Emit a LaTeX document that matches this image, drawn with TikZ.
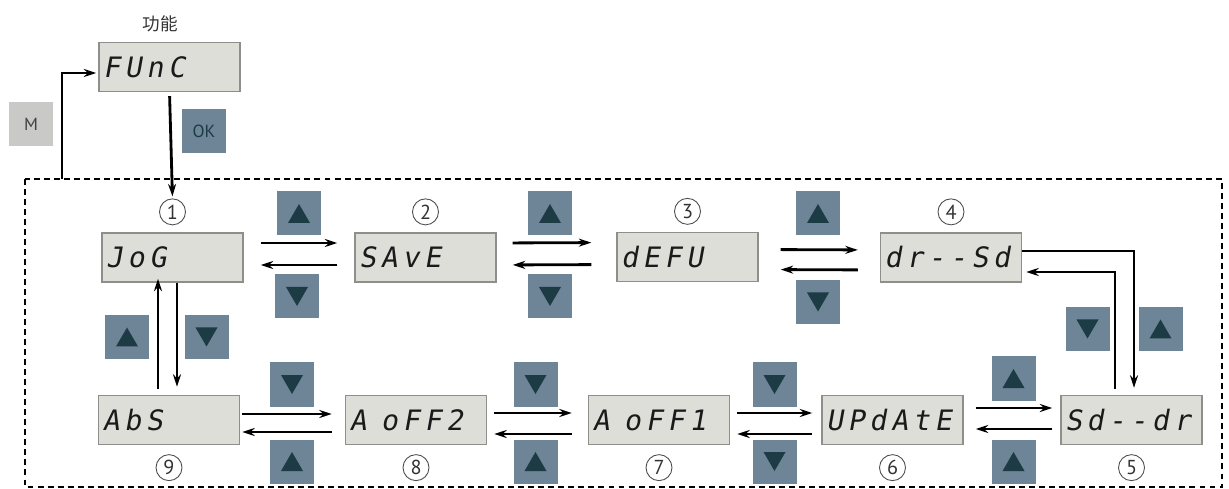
\documentclass[tikz,border=0pt]{standalone}
\usepackage{fontspec}
\usepackage{xcolor}
\usepackage{tikz}
\usetikzlibrary{positioning,arrows.meta,calc}
\newfontfamily\lcdfont[FakeSlant=0.18,LetterSpace=17,Ligatures=TeXOff]{DejaVu Sans Mono}
\newfontfamily\keyfont{PT Sans}
\newfontfamily\cjk{Noto Sans CJK SC}
\definecolor{lcdbg}{HTML}{DEDED9}
\definecolor{lcdedge}{HTML}{8E8E8A}
\definecolor{lcdink}{HTML}{1A1A1A}
\definecolor{keyblue}{HTML}{6D8597}
\definecolor{keydark}{HTML}{1D3B45}
\definecolor{keygray}{HTML}{C9C9C7}
\newcommand{\cellgap}{\hspace{2.9pt}~}

\begin{document}
\begin{tikzpicture}[
  x=0.2mm,y=-0.2mm,
  lcd/.style={draw=lcdedge,line width=0.8pt,fill=lcdbg,
              minimum width=2.82cm,minimum height=0.98cm,text width=2.66cm,
              inner xsep=0.08cm,align=left,text=lcdink,
              font=\lcdfont\fontsize{16}{16}\selectfont},
  key/.style={fill=keyblue,minimum size=0.88cm,inner sep=0pt},
  upkey/.style={key,path picture={
      \fill[keydark] ($(path picture bounding box.center)+(0,-9.5)$)
        -- ++(11,19) -- ++(-22,0) -- cycle;}},
  dnkey/.style={key,path picture={
      \fill[keydark] ($(path picture bounding box.center)+(0,9.5)$)
        -- ++(11,-19) -- ++(-22,0) -- cycle;}},
  mkey/.style={fill=keygray,minimum size=0.88cm,inner sep=0pt,
               text=black!75,font=\keyfont\fontsize{10}{10}\selectfont},
  okkey/.style={key,text=keydark,font=\keyfont\fontsize{10}{10}\selectfont},
  num/.style={circle,draw=black!70,line width=0.5pt,minimum size=0.52cm,
              inner sep=0pt,text=black!80,font=\keyfont\fontsize{11.5}{11.5}\selectfont},
  title/.style={text=black!80,font=\cjk\fontsize{10}{10}\selectfont},
  arr/.style={-{Stealth[length=2.5mm,width=1.6mm]},line width=1.6pt,draw=black},
  loopframe/.style={draw=black,line width=1.5pt,dash pattern=on 3.4pt off 2.3pt},
]
\useasboundingbox (0,0) rectangle (1229,489);

% TOP: function entry with M / OK keys
\node[lcd] (func) at (169.5,67) {FUnC};
\node[title] (functitle) at (160,24) {功能};
\node[mkey] (mkey) at (31,124.5) {M};
\node[okkey] (okkey) at (204,131) {OK};

% loop frame
\draw[loopframe] (25,179) rectangle (1222,487);
\coordinate (mfoot) at (62,179);

% ROW 1: displays 1..4
\node[lcd] (jog)  at (172.5,257.5) {JoG};
\node[lcd] (save) at (425.5,257.5) {SAvE};
\node[lcd] (defu) at (687.5,257)   {dEFU};
\node[lcd] (drsd) at (951,257.5)   {dr--Sd};
\node[num,above=1.4mm of jog]  (n1) {1};
\node[num,above=1.4mm of save] (n2) {2};
\node[num,above=1.4mm of defu] (n3) {3};
\node[num,above=1.4mm of drsd] (n4) {4};

% ROW 2: displays 9..5
\node[lcd] (abs)    at (169,420)    {AbS};
\node[lcd] (aoff2)  at (416,420)    {A\cellgap oFF2};
\node[lcd] (aoff1)  at (659,420)    {A\cellgap oFF1};
\node[lcd] (update) at (892.5,420)  {UPdAtE};
\node[lcd] (sddr)   at (1131.5,420) {Sd--dr};
\node[num,below=1.8mm of abs]    (n9) {9};
\node[num,below=1.8mm of aoff2]  (n8) {8};
\node[num,below=1.8mm of aoff1]  (n7) {7};
\node[num,below=1.8mm of update] (n6) {6};
\node[num,below=1.8mm of sddr]   (n5) {5};

% keys beside the arrows
\node[upkey] (k12a) at (299,213.5) {};
\node[dnkey] (k12b) at (297,296.5) {};
\node[upkey] (k23a) at (550,213.5) {};
\node[dnkey] (k23b) at (550,296.5) {};
\node[upkey] (k34a) at (818,213.5) {};
\node[dnkey] (k34b) at (818,302)   {};
\node[dnkey] (k45a) at (1087.5,329) {};
\node[upkey] (k45b) at (1160.5,329) {};
\node[upkey] (k19a) at (127,337)   {};
\node[dnkey] (k19b) at (206.5,337) {};
\node[dnkey] (k98a) at (292,384.5) {};
\node[upkey] (k98b) at (292,461.5) {};
\node[dnkey] (k87a) at (535.5,384.5) {};
\node[upkey] (k87b) at (535.5,461.5) {};
\node[dnkey] (k76a) at (774.5,384.5) {};
\node[dnkey] (k76b) at (774.5,461.5) {};
\node[upkey] (k65a) at (1013.5,378.5) {};
\node[upkey] (k65b) at (1013.5,461.5) {};

% M and OK paths
\draw[arr,shorten >=0.4mm] (mfoot) |- ([yshift=-1.2mm]func.west);
\draw[arr,shorten <=0.8mm,shorten >=0.4mm] (func.south) -- (n1.north);

% row 1 pairs
\draw[arr,shorten <=3.4mm,shorten >=3.4mm] ([yshift=2.9mm]jog.east) -- ([yshift=2.9mm]save.west);
\draw[arr,shorten <=3.4mm,shorten >=3.4mm] ([yshift=-1.5mm]save.west) -- ([yshift=-1.5mm]jog.east);
\draw[arr,shorten <=3.2mm,shorten >=5mm] ([yshift=2.9mm]save.east) -- ([yshift=2.9mm]defu.west);
\draw[arr,shorten <=5mm,shorten >=3.2mm] ([yshift=-1.5mm]defu.west) -- ([yshift=-1.5mm]save.east);
\draw[arr,shorten <=4.4mm,shorten >=4.4mm] ([yshift=1.5mm]defu.east) -- ([yshift=1.5mm]drsd.west);
\draw[arr,shorten <=4.4mm,shorten >=4.4mm] ([yshift=-2.5mm]drsd.west) -- ([yshift=-2.5mm]defu.east);

% right side: 4 <-> 5
\draw[arr,shorten >=1.4mm] ([yshift=1.3mm]drsd.east) -| ([xshift=0.5mm]sddr.north);
\draw[arr,shorten <=1.2mm,shorten >=0.8mm] ([xshift=-3.3mm]sddr.north) |- ([yshift=-2.9mm]drsd.east);

% left side: 1 <-> 9
\coordinate (upx) at ([xshift=-2.9mm]jog.south);
\coordinate (dnx) at ([xshift=0.9mm]jog.south);
\draw[arr,shorten <=1.2mm,shorten >=-0.8mm] (upx |- abs.north) -- (upx);
\draw[arr,shorten >=1.6mm] (dnx) -- (dnx |- abs.north);

% row 2 pairs
\draw[arr,shorten <=0.4mm,shorten >=2.6mm] ([yshift=1.2mm]abs.east) -- ([yshift=1.2mm]aoff2.west);
\draw[arr,shorten <=2.6mm,shorten >=0.4mm] ([yshift=-2.4mm]aoff2.west) -- ([yshift=-2.4mm]abs.east);
\draw[arr,shorten <=1.4mm,shorten >=3.2mm] ([yshift=1.4mm]aoff2.east) -- ([yshift=1.4mm]aoff1.west);
\draw[arr,shorten <=3.2mm,shorten >=1.4mm] ([yshift=-2.8mm]aoff1.west) -- ([yshift=-2.8mm]aoff2.east);
\draw[arr,shorten <=1.4mm,shorten >=1.8mm] ([yshift=1.4mm]aoff1.east) -- ([yshift=1.4mm]update.west);
\draw[arr,shorten <=1.8mm,shorten >=1.4mm] ([yshift=-2.8mm]update.west) -- ([yshift=-2.8mm]aoff1.east);
\draw[arr,shorten <=2.4mm,shorten >=1.6mm] ([yshift=2.4mm]update.east) -- ([yshift=2.4mm]sddr.west);
\draw[arr,shorten <=1.6mm,shorten >=2.4mm] ([yshift=-1.8mm]sddr.west) -- ([yshift=-1.8mm]update.east);
\end{tikzpicture}
\end{document}
